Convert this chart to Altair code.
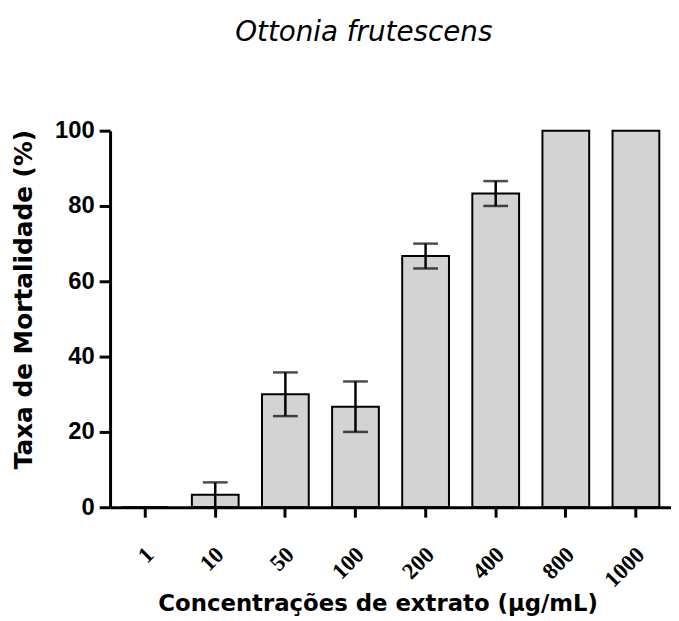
import altair as alt
import pandas as pd

concentrations = ["1", "10", "50", "100", "200", "400", "800", "1000"]
mortality = [0, 3.3, 30.0, 26.7, 66.7, 83.3, 100, 100]
sem = [0, 3.3, 5.8, 6.7, 3.3, 3.3, 0, 0]

df = pd.DataFrame({"conc": concentrations, "mort": mortality, "err": sem})
df["lo"] = df["mort"] - df["err"]
df["hi"] = df["mort"] + df["err"]

W = 566
H = 380

xscale = alt.Scale(domain=concentrations, paddingInner=0.333, paddingOuter=0.1667)
yscale = alt.Scale(domain=[0, 100], nice=False)

xaxis = alt.Axis(
    title="Concentrações de extrato (µg/mL)",
    labelAngle=-45, labelAlign="right", labelBaseline="middle",
    labelFont="Liberation Serif", labelFontWeight="bold", labelFontSize=23,
    labelPadding=34, labelOffset=5, labelColor="black",
    domainColor="black", domainWidth=3, tickColor="black", tickWidth=3, tickSize=10,
    titleFont="DejaVu Sans", titleFontWeight="bold", titleFontSize=23, titleColor="black",
    titleX=270, titleY=104, titleBaseline="alphabetic", titleAlign="center",
    grid=False, zindex=1,
)
yaxis = alt.Axis(
    title="Taxa de Mortalidade (%)",
    values=[0, 20, 40, 60, 80, 100], grid=False,
    labelFont="Liberation Sans", labelFontWeight="bold", labelFontSize=24,
    labelPadding=5, labelColor="black",
    domainColor="black", domainWidth=3, tickColor="black", tickWidth=3, tickSize=11,
    titleFont="DejaVu Sans", titleFontWeight="bold", titleFontSize=25, titleColor="black",
    titleX=-79, titleY=170, titleAngle=-90, titleBaseline="alphabetic", titleAlign="center",
    zindex=1,
)

base = alt.Chart(df)

bars = base.mark_bar(fill="#d3d3d3", stroke="black", strokeWidth=2).encode(
    x=alt.X("conc:N", scale=xscale, axis=xaxis, sort=concentrations),
    y=alt.Y("mort:Q", scale=yscale, axis=yaxis),
)

err = base.transform_filter("datum.err > 0")

rules = err.mark_rule(color="black", strokeWidth=2.5).encode(
    x=alt.X("conc:N", scale=xscale, sort=concentrations),
    y="lo:Q",
    y2="hi:Q",
)
caps_hi = err.mark_tick(color="black", thickness=2.5, size=25, orient="horizontal").encode(
    x=alt.X("conc:N", scale=xscale, sort=concentrations),
    y="hi:Q",
)
caps_lo = err.mark_tick(color="black", thickness=2.5, size=25, orient="horizontal").encode(
    x=alt.X("conc:N", scale=xscale, sort=concentrations),
    y="lo:Q",
)

chart = alt.layer(bars, rules, caps_hi, caps_lo).properties(
    width=W,
    height=H,
    background="white",
    title=alt.TitleParams(
        "Ottonia frutescens",
        font="DejaVu Sans", fontStyle="italic", fontWeight="normal", fontSize=28,
        color="black", anchor="middle", frame="group", offset=72, dx=-27,
    ),
    autosize=alt.AutoSizeParams(type="none"),
    padding={"left": 103, "top": 121, "right": 0, "bottom": 108},
).configure_view(stroke="transparent", strokeWidth=0).configure_axis(grid=False)

chart.save("out.html", embed_options={"renderer": "svg", "actions": False})
